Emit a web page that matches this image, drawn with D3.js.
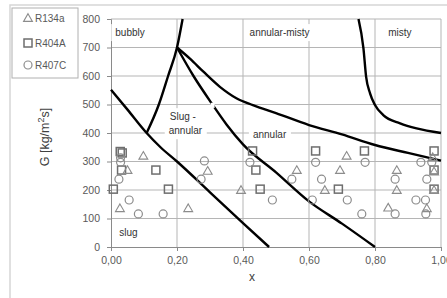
<!DOCTYPE html>
<html>
<head>
<meta charset="utf-8">
<script src="https://cdn.jsdelivr.net/npm/d3@7"></script>
<style>
  body { margin: 0; background: #fff; }
  text { font-family: 'Liberation Sans', Arial, sans-serif; }
</style>
</head>
<body>
<div id="chart"></div>
<script>
// flow pattern map, G vs x
var xTicks = [0, 0.2, 0.4, 0.6, 0.8, 1.0]
var yTicks = [0, 100, 200, 300, 400, 500, 600, 700, 800]

// measured points [x, G]
var r134a = [[0.05, 270], [0.027, 136], [0.098, 320], [0.234, 136], [0.293, 267], [0.394, 200],
  [0.563, 270], [0.648, 200], [0.694, 270], [0.714, 320], [0.866, 270], [0.866, 200],
  [0.84, 138], [0.957, 136], [0.979, 265], [0.979, 200], [0.975, 315]]
var r404a = [[0.028, 335], [0.034, 330], [0.032, 270], [0.007, 203], [0.136, 270], [0.174, 203],
  [0.429, 337], [0.439, 270], [0.452, 203], [0.62, 337], [0.689, 203], [0.768, 337],
  [0.979, 337], [0.979, 270], [0.979, 203]]
var r407c = [[0.029, 313], [0.029, 297], [0.024, 238], [0.055, 165], [0.083, 116], [0.158, 116],
  [0.283, 302], [0.273, 238], [0.421, 297], [0.489, 165], [0.62, 297], [0.548, 238],
  [0.638, 238], [0.61, 165], [0.716, 165], [0.76, 116], [0.77, 297], [0.939, 297],
  [0.972, 297], [0.861, 238], [0.957, 238], [0.924, 165], [0.953, 165], [0.861, 116], [0.954, 116]]

// transition boundaries [x, G]
var slugLine = [[0, 552], [0.05, 482], [0.108, 400], [0.15, 350], [0.2, 300], [0.3, 192], [0.4, 84], [0.479, 0]]
var bubblyLine = [[0.108, 400], [0.145, 500], [0.173, 600], [0.2, 700], [0.217, 800]]
var upperLine = [[0.2, 700], [0.24, 660], [0.28, 615], [0.33, 562], [0.38, 522], [0.43, 498], [0.5, 470],
  [0.6, 428], [0.7, 395], [0.8, 358], [0.9, 330], [1.0, 303]]
var middleLine = [[0.2, 700], [0.25, 600], [0.305, 504], [0.35, 430], [0.4, 360], [0.5, 262], [0.6, 160],
  [0.7, 82], [0.8, 0]]
var mistyLine = [[0.75, 800], [0.765, 697], [0.773, 598], [0.785, 539], [0.8, 498], [0.825, 463],
  [0.876, 434], [0.926, 416], [1.0, 400]]

// region labels: [text lines, x, G]
var regionLabels = [
  { lines: ['bubbly'], x: 0.013, g: 740 },
  { lines: ['annular-misty'], x: 0.42, g: 740 },
  { lines: ['misty'], x: 0.84, g: 740 },
  { lines: ['Slug -', 'annular'], x: 0.178, g: 445 },
  { lines: ['annular'], x: 0.43, g: 382 },
  { lines: ['slug'], x: 0.025, g: 40 }
]

var legendNames = ['R134a', 'R404A', 'R407C']

var width = 447
var height = 298

var svg = d3.select('#chart')
  .append('svg')
  .attr('width', width)
  .attr('height', height)

var xScale = d3.scaleLinear().domain([0, 1]).range([111, 441])
var yScale = d3.scaleLinear().domain([0, 800]).range([247, 19])

// outer chart frame
svg.append('rect')
  .attr('x', 10).attr('y', 5)
  .attr('width', 460).attr('height', 320)
  .attr('fill', 'none')
  .attr('stroke', '#d6d6d6')
  .attr('stroke-width', 1.5)

// gridlines
svg.append('g')
  .selectAll('line')
  .data(yTicks.slice(1))
  .enter()
  .append('line')
  .attr('x1', xScale(0)).attr('x2', xScale(1))
  .attr('y1', d => yScale(d)).attr('y2', d => yScale(d))
  .attr('stroke', '#b5b5b5')

svg.append('g')
  .selectAll('line')
  .data(xTicks.slice(1))
  .enter()
  .append('line')
  .attr('x1', d => xScale(d)).attr('x2', d => xScale(d))
  .attr('y1', yScale(0)).attr('y2', yScale(800))
  .attr('stroke', '#b5b5b5')

// axes
var yAxis = svg.append('g')
  .attr('transform', `translate(${xScale(0)},0)`)
  .call(d3.axisLeft(yScale).tickValues(yTicks).tickSize(4).tickPadding(7).tickFormat(d3.format('d')))
var xAxis = svg.append('g')
  .attr('transform', `translate(0,${yScale(0)})`)
  .call(d3.axisBottom(xScale).tickValues(xTicks).tickSize(4).tickPadding(6)
    .tickFormat(d => d.toFixed(2).replace('.', ',')))

;[xAxis, yAxis].forEach(function(ax) {
  ax.select('.domain').attr('stroke', '#8a8a8a')
  ax.selectAll('.tick line').attr('stroke', '#8a8a8a')
  ax.selectAll('.tick text')
    .attr('fill', '#595959')
    .style('font-size', '10.5px')
    .style('font-family', "'Liberation Sans', Arial, sans-serif")
})

// label backgrounds hide the grid behind the text boxes
var labelLayer = svg.append('g')
regionLabels.forEach(function(l) {
  var g = labelLayer.append('g')
  var t = g.append('text')
    .attr('x', xScale(l.x))
    .attr('y', yScale(l.g))
    .attr('fill', '#333')
    .style('font-size', '10px')
  l.lines.forEach(function(s, i) {
    t.append('tspan')
      .attr('x', xScale(l.x) + (i > 0 ? -1 : 0))
      .attr('dy', i === 0 ? 0 : 14)
      .text(s)
  })
  var bb = t.node().getBBox()
  g.insert('rect', 'text')
    .attr('x', bb.x - 4).attr('y', bb.y - 3)
    .attr('width', bb.width + 8).attr('height', bb.height + 6)
    .attr('fill', '#fff')
})

// boundary lines
var line = d3.line()
  .x(d => xScale(d[0]))
  .y(d => yScale(d[1]))
  .curve(d3.curveMonotoneX)

svg.append('g')
  .selectAll('path')
  .data([slugLine, bubblyLine, upperLine, middleLine, mistyLine])
  .enter()
  .append('path')
  .attr('d', d => line(d))
  .attr('fill', 'none')
  .attr('stroke', '#000')
  .attr('stroke-width', 2.4)

// small break in the middle boundary
svg.append('rect')
  .attr('x', xScale(0.302)).attr('y', yScale(506))
  .attr('width', xScale(0.314) - xScale(0.302))
  .attr('height', yScale(488) - yScale(506))
  .attr('fill', '#fff')

// markers
var markerColor = '#8c8c8c'
var tri = d3.symbol().type(d3.symbolTriangle).size(34)

function drawTri(sel, x, y) {
  sel.append('path')
    .attr('d', tri())
    .attr('transform', `translate(${x},${y + 0.8})`)
    .attr('fill', 'none')
    .attr('stroke', markerColor)
    .attr('stroke-width', 1.1)
}
function drawSquare(sel, x, y) {
  sel.append('rect')
    .attr('x', x - 4).attr('y', y - 4)
    .attr('width', 8).attr('height', 8)
    .attr('fill', 'none')
    .attr('stroke', '#6e6e6e')
    .attr('stroke-width', 1.5)
}
function drawCircle(sel, x, y) {
  sel.append('circle')
    .attr('cx', x).attr('cy', y)
    .attr('r', 4)
    .attr('fill', 'none')
    .attr('stroke', markerColor)
    .attr('stroke-width', 1.2)
}

var pts = svg.append('g')
r404a.forEach(d => drawSquare(pts, xScale(d[0]), yScale(d[1])))
r134a.forEach(d => drawTri(pts, xScale(d[0]), yScale(d[1])))
r407c.forEach(d => drawCircle(pts, xScale(d[0]), yScale(d[1])))

// axis titles
svg.append('text')
  .attr('transform', 'translate(49,137) rotate(-90)')
  .attr('text-anchor', 'middle')
  .attr('fill', '#404040')
  .style('font-size', '12.5px')
  .html('G [kg/m<tspan dy="-5" style="font-size:9px">2</tspan><tspan dy="5">s]</tspan>')

svg.append('text')
  .attr('x', 252).attr('y', 281)
  .attr('text-anchor', 'middle')
  .attr('fill', '#404040')
  .style('font-size', '12px')
  .text('x')

// legend
var legend = svg.append('g')
legend.append('rect')
  .attr('x', 12).attr('y', 8)
  .attr('width', 66).attr('height', 70)
  .attr('fill', '#fff')
  .attr('stroke', '#b0b0b0')

var drawers = [drawTri, drawSquare, drawCircle]
var legendY = [18, 43, 65]
legendNames.forEach(function(name, i) {
  drawers[i](legend, 28, legendY[i])
  legend.append('text')
    .attr('x', 35).attr('y', legendY[i] + 4)
    .attr('fill', '#595959')
    .style('font-size', '10px')
    .text(name)
})
</script>
</body>
</html>
